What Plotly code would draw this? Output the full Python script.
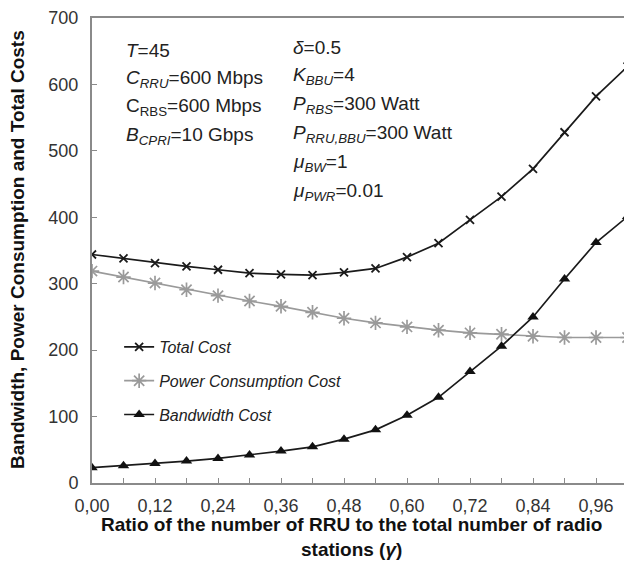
import plotly.graph_objects as go

# ---- data ----
gamma = [0.00, 0.06, 0.12, 0.18, 0.24, 0.30, 0.36, 0.42, 0.48, 0.54,
         0.60, 0.66, 0.72, 0.78, 0.84, 0.90, 0.96, 1.02]
total_cost = [344, 338, 331, 326, 321, 316, 314, 313, 317, 323,
              340, 361, 396, 431, 473, 528, 582, 627]
power_cost = [319, 310, 301, 291, 282, 274, 266, 257, 248, 241,
              235, 230, 226, 224, 221, 219, 219, 219]
bandwidth_cost = [23, 26, 29.5, 33, 37, 42, 48, 54.5, 66, 80,
                  102, 129, 168, 206, 250, 307, 362, 401]

series_names = ["Total Cost", "Power Consumption Cost", "Bandwidth Cost"]

x_tickvals = [0.00, 0.06, 0.12, 0.18, 0.24, 0.30, 0.36, 0.42, 0.48,
              0.54, 0.60, 0.66, 0.72, 0.78, 0.84, 0.90, 0.96]
x_ticktext = ["0,00", "", "0,12", "", "0,24", "", "0,36", "", "0,48",
              "", "0,60", "", "0,72", "", "0,84", "", "0,96"]
y_tickvals = [0, 100, 200, 300, 400, 500, 600, 700]

x_title = "<b>Ratio of the number of RRU to the total number of radio<br>stations (<i>γ</i>)</b>"
y_title = "<b>Bandwidth, Power Consumption and Total Costs</b>"

params_left = ["<i>T</i>=45",
               "<i>C<sub>RRU</sub></i>=600 Mbps",
               "C<sub>RBS</sub>=600 Mbps",
               "<i>B<sub>CPRI</sub></i>=10 Gbps"]
params_right = ["<i>δ</i>=0.5",
                "<i>K<sub>BBU</sub></i>=4",
                "<i>P<sub>RBS</sub></i>=300 Watt",
                "<i>P<sub>RRU,BBU</sub></i>=300 Watt",
                "<i>μ<sub>BW</sub></i>=1",
                "<i>μ<sub>PWR</sub></i>=0.01"]

FONT = "Liberation Sans, Arial, sans-serif"
AXIS_GRAY = "#8a8a8a"

# plot-area geometry in pixels (used only to place text)
L, T_, W, H = 92, 18, 532, 465


def px_x(px):
    return (px - L) / W


def px_y(py):
    return (T_ + H - py) / H


fig = go.Figure()
fig.add_trace(go.Scatter(
    x=gamma, y=total_cost, name="<i>" + series_names[0] + "</i>",
    mode="lines+markers", legendgroup="a",
    line=dict(color="#1a1a1a", width=1.7),
    marker=dict(symbol="x-thin", size=8, color="#1a1a1a",
                line=dict(color="#1a1a1a", width=1.8))))
fig.add_trace(go.Scatter(
    x=gamma, y=power_cost, name="<i>" + series_names[1] + "</i>",
    mode="lines+markers", legendgroup="b",
    line=dict(color="#9a9a9a", width=1.7),
    marker=dict(symbol="asterisk-open", size=12, color="#9a9a9a",
                line=dict(color="#9a9a9a", width=1.7))))
fig.add_trace(go.Scatter(
    x=gamma, y=bandwidth_cost, name="<i>" + series_names[2] + "</i>",
    mode="lines+markers", legendgroup="c",
    line=dict(color="#1a1a1a", width=1.7),
    marker=dict(symbol="triangle-up", size=10, color="#111111")))

annotations = []
for i, t in enumerate(params_left):
    annotations.append(dict(xref="paper", yref="paper", x=px_x(124),
                            y=px_y(50 + i * 28.7), text=t,
                            showarrow=False, xanchor="left", yanchor="middle",
                            font=dict(family=FONT, size=19, color="#222")))
for i, t in enumerate(params_right):
    annotations.append(dict(xref="paper", yref="paper", x=px_x(291),
                            y=px_y(47 + i * 29), text=t,
                            showarrow=False, xanchor="left", yanchor="middle",
                            font=dict(family=FONT, size=19, color="#222")))
# axis titles
annotations.append(dict(xref="paper", yref="paper", x=px_x(351), y=px_y(537),
                        text=x_title, showarrow=False, xanchor="center",
                        yanchor="middle",
                        font=dict(family=FONT, size=19, color="#111")))
annotations.append(dict(xref="paper", yref="paper", x=px_x(17), y=px_y(250),
                        text=y_title, showarrow=False, xanchor="center",
                        yanchor="middle", textangle=-90,
                        font=dict(family=FONT, size=19, color="#111")))

fig.update_layout(
    width=624, height=565,
    margin=dict(l=L, r=0, t=T_, b=565 - T_ - H),
    paper_bgcolor="white", plot_bgcolor="white",
    font=dict(family=FONT, color="#333"),
    showlegend=True,
    legend=dict(x=0.051, y=0.329, xanchor="left", yanchor="top",
                bgcolor="rgba(0,0,0,0)", traceorder="grouped",
                tracegroupgap=10, itemwidth=30,
                font=dict(family=FONT, size=16, color="#222")),
    annotations=annotations,
    xaxis=dict(range=[0, 1.0133], tickvals=x_tickvals, ticktext=x_ticktext,
               ticks="inside", ticklen=5, tickcolor=AXIS_GRAY, tickwidth=1,
               showline=True, linecolor=AXIS_GRAY, linewidth=2, mirror=True,
               showgrid=False, zeroline=False,
               tickfont=dict(family=FONT, size=18, color="#333"),
               ticklabelstandoff=5),
    yaxis=dict(range=[0, 700], tickvals=y_tickvals,
               ticks="inside", ticklen=5, tickcolor=AXIS_GRAY, tickwidth=1,
               showline=True, linecolor=AXIS_GRAY, linewidth=2,
               showgrid=False, zeroline=False,
               tickfont=dict(family=FONT, size=18, color="#333"),
               ticklabelstandoff=8),
)

fig.write_html("out.html")
